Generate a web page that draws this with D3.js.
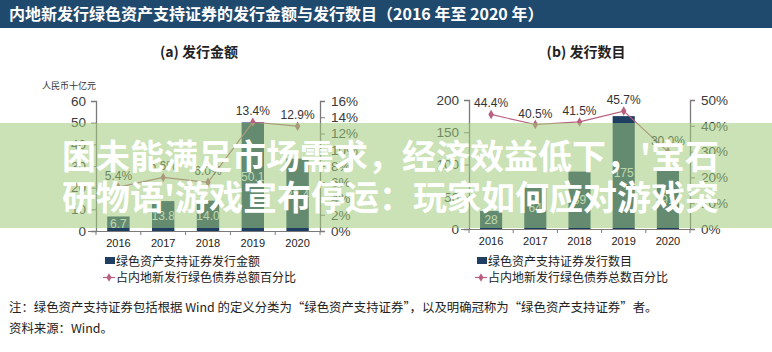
<!DOCTYPE html>
<html>
<head>
<meta charset="utf-8">
<script src="https://cdn.jsdelivr.net/npm/d3@7"></script>
<style>
  body { margin: 0; background: #fff; }
  svg { display: block; font-family: "Liberation Sans", Arial, sans-serif; }
  .cjk { font-family: "Noto Sans CJK SC", "Noto Sans", sans-serif; }
</style>
</head>
<body>
<svg id="chart" width="772" height="352"></svg>
<script>
// data
var years = ["2016", "2017", "2018", "2019", "2020"];
var amount = [6.7, 13.8, 14.0, 50.1, 33.4];          // 人民币十亿元
var amountPct = [5.4, 6.6, 6.0, 13.4, 12.9];         // %
var count = [28, 64, 89, 175, 91];
var countPct = [44.4, 40.5, 41.5, 45.7, 30.0];       // %

var amountTicks = [0, 10, 20, 30, 40, 50, 60];
var amountPctTicks = [0, 2, 4, 6, 8, 10, 12, 14, 16];
var countTicks = [0, 50, 100, 150, 200];
var countPctTicks = [0, 10, 20, 30, 40, 50];

var navy = "#1e3e62";
var pink = "#b8607e";
var axisGrey = "#7a7a7a";
var textGrey = "#3a3a3a";

var svg = d3.select("#chart");

// title bar
svg.append("rect")
  .attr("width", 772)
  .attr("height", 28)
  .attr("fill", "#1f4a6e");

svg.append("text")
  .attr("class", "cjk")
  .attr("x", 9)
  .attr("y", 19.5)
  .attr("fill", "#fff")
  .style("font-size", "16px")
  .style("font-weight", "bold")
  .text("内地新发行绿色资产支持证券的发行金额与发行数目（2016 年至 2020 年）");

function drawPanel(opt) {
  var g = svg.append("g");

  var x = d3.scaleBand()
    .domain(years)
    .range([opt.left, opt.right])
    .paddingInner(0.5)
    .paddingOuter(0.25);
  var y = d3.scaleLinear().domain([0, opt.yMax]).range([opt.bottom, opt.top]);
  var y2 = d3.scaleLinear().domain([0, opt.y2Max]).range([opt.bottom, opt.top]);

  // subtitle
  g.append("text")
    .attr("class", "cjk")
    .attr("x", opt.titleX)
    .attr("y", 57)
    .attr("text-anchor", "middle")
    .attr("fill", "#222")
    .style("font-size", "14px")
    .style("font-weight", "bold")
    .text(opt.title);

  if (opt.unit) {
    g.append("text")
      .attr("class", "cjk")
      .attr("x", opt.left - 54)
      .attr("y", 89)
      .attr("fill", "#333")
      .style("font-size", "9px")
      .text(opt.unit);
  }

  // bars
  g.selectAll(".bar")
    .data(opt.bars)
    .enter().append("rect")
    .attr("x", function(d, i) { return x(years[i]); })
    .attr("y", function(d) { return y(d); })
    .attr("width", x.bandwidth())
    .attr("height", function(d) { return opt.bottom - y(d); })
    .attr("fill", navy);

  g.selectAll(".bar-label")
    .data(opt.bars)
    .enter().append("text")
    .attr("x", function(d, i) { return x(years[i]) + x.bandwidth() / 2; })
    .attr("y", function(d) { return (y(d) + opt.bottom) / 2 + 4; })
    .attr("text-anchor", "middle")
    .attr("fill", "#e4e8ee")
    .style("font-size", "12px")
    .text(function(d) { return opt.barFmt(d); });

  // axes
  var leftAxis = d3.axisLeft(y).tickValues(opt.yTicks).tickSize(5).tickPadding(5);
  var rightAxis = d3.axisRight(y2).tickValues(opt.y2Ticks).tickSize(5).tickPadding(6)
    .tickFormat(function(d) { return d + "%"; });

  var la = g.append("g").attr("transform", "translate(" + opt.left + ",0)").call(leftAxis);
  var ra = g.append("g").attr("transform", "translate(" + opt.right + ",0)").call(rightAxis);
  [la, ra].forEach(function(a) {
    a.select(".domain").attr("stroke", axisGrey).attr("stroke-width", 1.3);
    a.selectAll(".tick line").attr("stroke", axisGrey);
    a.selectAll(".tick text")
      .attr("fill", textGrey)
      .style("font-size", "13.5px")
      .style("font-family", "\"Liberation Sans\", Arial, sans-serif");
  });

  // x axis: line, boundary ticks, year labels
  g.append("line")
    .attr("x1", opt.left - 8).attr("x2", opt.right + 5)
    .attr("y1", opt.bottom + 0.5).attr("y2", opt.bottom + 0.5)
    .attr("stroke", axisGrey).attr("stroke-width", 1.2);

  g.selectAll(".xtick")
    .data(d3.range(years.length + 1))
    .enter().append("line")
    .attr("x1", function(i) { return opt.left + i * x.step(); })
    .attr("x2", function(i) { return opt.left + i * x.step(); })
    .attr("y1", opt.bottom)
    .attr("y2", opt.bottom + 4)
    .attr("stroke", axisGrey);

  var xa = g.append("g")
    .attr("transform", "translate(0," + opt.bottom + ")")
    .call(d3.axisBottom(x).tickSize(0).tickPadding(8));
  xa.select(".domain").remove();
  xa.selectAll("text")
    .attr("fill", "#222")
    .style("font-size", "11px")
    .style("font-family", "\"Liberation Sans\", Arial, sans-serif");

  // percentage line
  var line = d3.line()
    .x(function(d, i) { return x(years[i]) + x.bandwidth() / 2; })
    .y(function(d) { return y2(d); });

  g.append("path")
    .datum(opt.pct)
    .attr("d", line)
    .attr("fill", "none")
    .attr("stroke", pink)
    .attr("stroke-width", 1.2);

  g.selectAll(".pt")
    .data(opt.pct)
    .enter().append("path")
    .attr("transform", function(d, i) {
      return "translate(" + (x(years[i]) + x.bandwidth() / 2) + "," + y2(d) + ")";
    })
    .attr("d", d3.symbol(d3.symbolDiamond, 26))
    .attr("fill", pink);

  g.selectAll(".pct-label")
    .data(opt.pct)
    .enter().append("text")
    .attr("x", function(d, i) { return x(years[i]) + x.bandwidth() / 2; })
    .attr("y", function(d) { return y2(d) - 7; })
    .attr("text-anchor", "middle")
    .attr("fill", "#333")
    .style("font-size", "12px")
    .text(function(d) { return d.toFixed(1) + "%"; });

  // legend
  var lx = opt.legendX;
  g.append("rect")
    .attr("x", lx + 2).attr("y", 257)
    .attr("width", 10).attr("height", 7)
    .attr("fill", navy);
  g.append("text")
    .attr("class", "cjk")
    .attr("x", lx + 13).attr("y", 265.5)
    .attr("fill", "#222")
    .style("font-size", "12px")
    .text(opt.legend1);

  g.append("line")
    .attr("x1", lx).attr("x2", lx + 12)
    .attr("y1", 277.5).attr("y2", 277.5)
    .attr("stroke", pink).attr("stroke-width", 1.2);
  g.append("path")
    .attr("transform", "translate(" + (lx + 6) + ",277.5)")
    .attr("d", d3.symbol(d3.symbolDiamond, 22))
    .attr("fill", pink);
  g.append("text")
    .attr("class", "cjk")
    .attr("x", lx + 13).attr("y", 282)
    .attr("fill", "#222")
    .style("font-size", "12px")
    .text(opt.legend2);
}

drawPanel({
  title: "(a)  发行金额",
  titleX: 199,
  unit: "人民币十亿元",
  left: 96, right: 320, top: 101, bottom: 231,
  yMax: 60, y2Max: 16,
  yTicks: amountTicks, y2Ticks: amountPctTicks,
  bars: amount, barFmt: function(d) { return d.toFixed(1); },
  pct: amountPct,
  legendX: 103,
  legend1: "绿色资产支持证券发行金额",
  legend2: "占内地新发行绿色债券总额百分比"
});

drawPanel({
  title: "(b)  发行数目",
  titleX: 586,
  unit: null,
  left: 469, right: 690, top: 100, bottom: 229,
  yMax: 200, y2Max: 50,
  yTicks: countTicks, y2Ticks: countPctTicks,
  bars: count, barFmt: function(d) { return d; },
  pct: countPct,
  legendX: 475,
  legend1: "绿色资产支持证券发行数目",
  legend2: "占内地新发行绿色债券总数百分比"
});

// notes
svg.append("text")
  .attr("class", "cjk")
  .attr("x", 9).attr("y", 312)
  .attr("fill", "#222")
  .style("font-size", "12.4px")
  .text("注：绿色资产支持证券包括根据 Wind 的定义分类为“绿色资产支持证券”，以及明确冠称为“绿色资产支持证券”者。");

svg.append("text")
  .attr("class", "cjk")
  .attr("x", 9).attr("y", 333)
  .attr("fill", "#222")
  .style("font-size", "12.4px")
  .text("资料来源：Wind。");

// overlay band with caption text
svg.append("rect")
  .attr("x", 0).attr("y", 123)
  .attr("width", 772).attr("height", 105)
  .attr("fill", "rgb(158,202,122)")
  .attr("fill-opacity", 0.55);

var caption = ["困未能满足市场需求，经济效益低下，'宝石", "研物语'游戏宣布停运：玩家如何应对游戏突"];
svg.selectAll(".caption")
  .data(caption)
  .enter().append("text")
  .attr("class", "cjk")
  .attr("x", 62)
  .attr("y", function(d, i) { return 169 + i * 41; })
  .attr("fill", "#fff")
  .style("font-size", "34px")
  .style("font-weight", "bold")
  .text(function(d) { return d; });
</script>
</body>
</html>
